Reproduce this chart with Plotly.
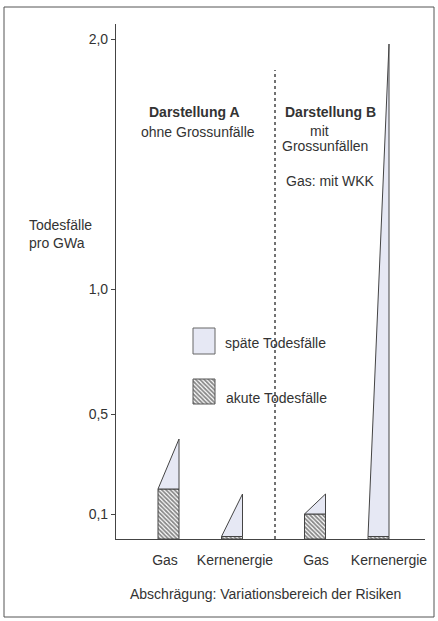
import plotly.graph_objects as go

# ---- data ----
categories = ["Gas", "Kernenergie", "Gas", "Kernenergie"]
akute = [0.20, 0.01, 0.10, 0.01]          # acute deaths per GWa (hatched)
spaete_max = [0.40, 0.18, 0.18, 1.98]     # upper end of variation range
y_tickvals = [0.1, 0.5, 1.0, 2.0]
y_ticktext = ["0,1", "0,5", "1,0", "2,0"]

# ---- layout constants (pixel-like x axis) ----
W, H = 438, 621
L, R, T, B = 116, 13, 24, 82
bar_x = [168.5, 232, 315, 378.5]
bar_w = 21
label_x = [165, 235, 316, 389]
Y_TOP = 2.06

FONT = "Liberation Sans, Arial, Helvetica, sans-serif"
TXT = "#333333"
LINE = "#444444"
LAV = "#e6e8f4"
FS = 14

fig = go.Figure()

# späte Todesfälle: slanted wedges above hatched part
for xc, a, m in zip(bar_x, akute, spaete_max):
    xl, xr = xc - bar_w / 2, xc + bar_w / 2
    fig.add_trace(go.Scatter(
        x=[xl, xr, xr, xl], y=[a, m, a, a], mode="lines", fill="toself",
        fillcolor=LAV, line=dict(color=LINE, width=1), hoverinfo="skip",
        showlegend=False))

hatch = dict(shape="\\", size=3, solidity=0.6, fgcolor="#111111", bgcolor="white")

# akute Todesfälle: hatched bars
fig.add_trace(go.Bar(
    x=bar_x, y=akute, width=bar_w,
    marker=dict(color="white", line=dict(color=LINE, width=1), pattern=hatch),
    showlegend=False, hoverinfo="skip"))

# legend swatches on a pixel overlay axis
fig.add_trace(go.Bar(
    x=[204], y=[26], base=[328], width=22, yaxis="y2",
    marker=dict(color=LAV, line=dict(color="#666666", width=1)),
    showlegend=False, hoverinfo="skip"))
fig.add_trace(go.Bar(
    x=[204], y=[25], base=[379], width=22, yaxis="y2",
    marker=dict(color="white", line=dict(color="#555555", width=1), pattern=hatch),
    showlegend=False, hoverinfo="skip"))

def ypx(py):
    return (H - B - py) / (H - B - T)

def xpx(px):
    return (px - L) / (W - L - R)

annotations = []
def txt(x, y, s, size=FS, xanchor="center", bold=False):
    annotations.append(dict(
        x=x, y=ypx(y), xref="x", yref="paper", text=("<b>%s</b>" % s) if bold else s,
        showarrow=False, xanchor=xanchor, yanchor="middle", align="left",
        font=dict(family=FONT, size=size, color=TXT)))

txt(194, 112, "Darstellung A", bold=True)
txt(198, 132, "ohne Grossunfälle")
txt(330, 112, "Darstellung B", bold=True)
txt(319, 131, "mit")
txt(325, 146, "Grossunfällen")
txt(330, 181, "Gas: mit WKK")
txt(223, 343, "späte Todesfälle", xanchor="left")
txt(224, 398, "akute Todesfälle", xanchor="left")
txt(265, 594, "Abschrägung: Variationsbereich der Risiken")
annotations.append(dict(
    x=xpx(27), y=ypx(234), xref="paper", yref="paper",
    text="Todesfälle<br>pro GWa", showarrow=False, xanchor="left",
    yanchor="middle", align="left", font=dict(family=FONT, size=FS, color=TXT)))

shapes = [
    # outer frame
    dict(type="rect", xref="paper", yref="paper",
         x0=xpx(4), x1=xpx(434), y0=ypx(617), y1=ypx(7),
         line=dict(color="#555555", width=1)),
    # dashed divider
    dict(type="line", xref="x", yref="y", x0=275, x1=275,
         y0=0, y1=(H - B - 70) / 250.0,
         line=dict(color="#444444", width=1.5, dash="dot")),
]

fig.update_layout(
    width=W, height=H,
    margin=dict(l=L, r=R, t=T, b=B, pad=0),
    paper_bgcolor="white", plot_bgcolor="white",
    barmode="overlay",
    font=dict(family=FONT, size=FS, color=TXT),
    xaxis=dict(range=[L, W - R], showgrid=False, zeroline=False,
               showline=True, linecolor=LINE, linewidth=1.2,
               tickvals=label_x, ticktext=categories, ticks="",
               ticklabelstandoff=8, tickfont=dict(size=FS, color=TXT)),
    yaxis=dict(range=[0, Y_TOP], showgrid=False, zeroline=False,
               showline=True, linecolor=LINE, linewidth=1.2,
               tickvals=y_tickvals, ticktext=y_ticktext, ticks="outside",
               ticklen=4, tickcolor=LINE, tickwidth=1,
               tickfont=dict(size=FS, color=TXT)),
    yaxis2=dict(range=[H - B, T], overlaying="y", visible=False),
    annotations=annotations, shapes=shapes,
)

fig.write_html("out.html", config={"displayModeBar": False},
               post_script="document.body.style.margin='0';document.body.style.overflow='hidden';")
